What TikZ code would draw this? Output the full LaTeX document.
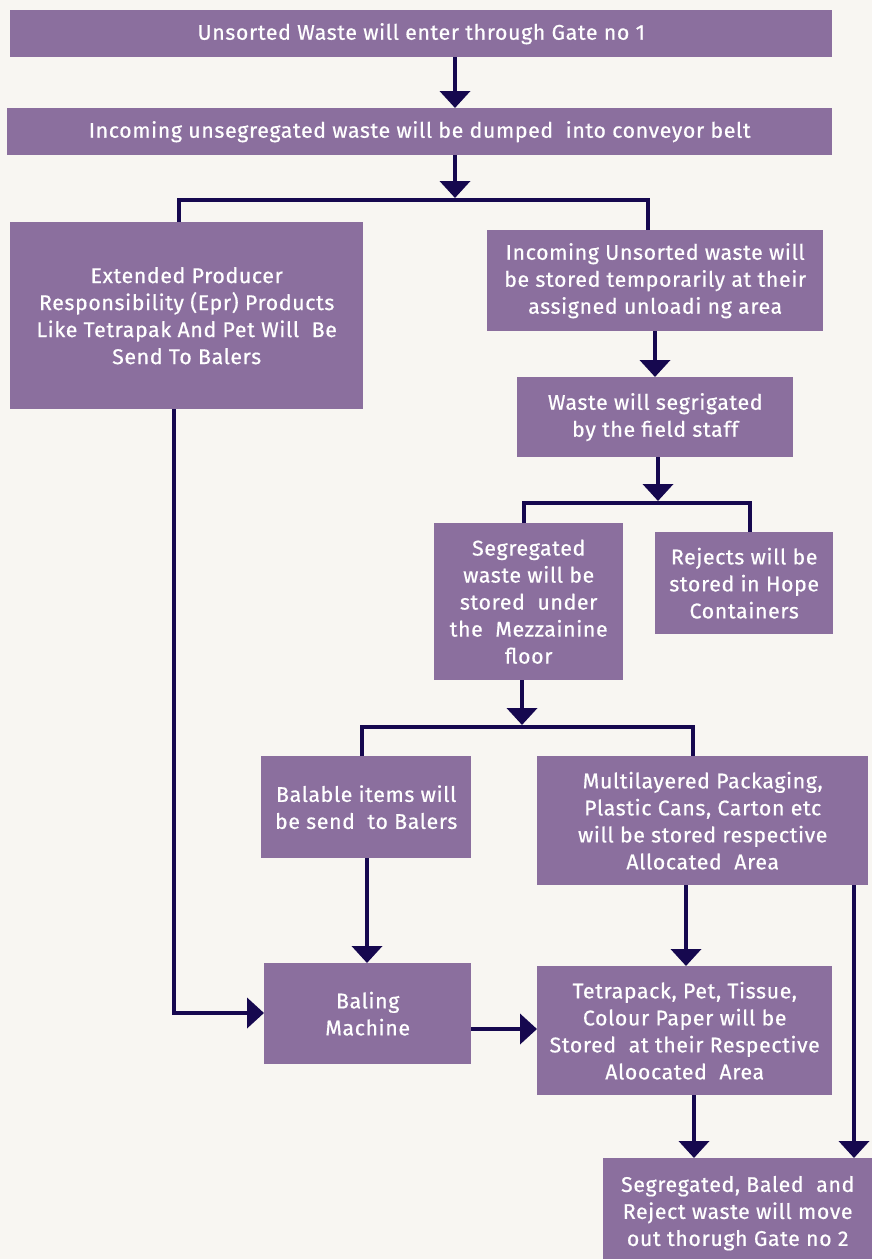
\documentclass[tikz,border=0pt]{standalone}
\usepackage{fontspec}
\setmainfont[LetterSpace=3,FakeBold=0.6]{Fira Sans}
\usetikzlibrary{arrows.meta,calc}
\definecolor{boxfill}{HTML}{8B6F9E}
\definecolor{arrcol}{HTML}{16084F}
\definecolor{bgcol}{HTML}{F8F6F2}
\tikzset{
  box/.style={fill=boxfill, text=white, align=center, anchor=north west, inner sep=0pt,
    font=\fontsize{21.3}{27}\selectfont},
  conn/.style={draw=arrcol, line width=4pt},
  arr/.style={conn, -{Triangle[width=30pt,length=17pt]}},
}
\begin{document}
\begin{tikzpicture}[x=1pt,y=-1pt]
\fill[bgcol] (0,0) rectangle (872,1259);
\useasboundingbox (0,0) rectangle (872,1259);

\node[box, minimum width=822pt, minimum height=47pt] (gate1) at (10,10) {Unsorted Waste will enter through Gate no 1};
\node[box, minimum width=825pt, minimum height=47pt] (dump) at (7,108) {Incoming unsegregated waste will be dumped\ \ into conveyor belt};
\node[box, minimum width=353pt, minimum height=187pt] (epr) at (10,222) {Extended Producer\\Responsibility (Epr) Products\\Like Tetrapak And Pet Will\ \ Be\\Send To Balers};
\node[box, minimum width=336pt, minimum height=101pt] (store) at (487,230) {Incoming Unsorted waste will\\be stored temporarily at their\\assigned unloadi ng area};
\node[box, minimum width=276pt, minimum height=80pt] (seg) at (517,377) {Waste will segrigated\\by the field staff};
\node[box, minimum width=189pt, minimum height=157pt] (mezz) at (434,523) {Segregated\\waste will be\\stored\ \ under\\the\ \ Mezzainine\\floor};
\node[box, minimum width=178pt, minimum height=102pt] (rej) at (655,532) {Rejects will be\\stored in Hope\\Containers};
\node[box, minimum width=210pt, minimum height=102pt] (bal) at (261,756) {Balable items will\\be send\ \ to Balers};
\node[box, minimum width=331pt, minimum height=129pt] (multi) at (537,756) {Multilayered Packaging,\\Plastic Cans, Carton etc\\will be stored respective\\Allocated\ \ Area};
\node[box, minimum width=207pt, minimum height=101pt] (baling) at (264,963) {Baling\\Machine};
\node[box, minimum width=295pt, minimum height=129pt] (tetra) at (537,966) {Tetrapack, Pet, Tissue,\\Colour Paper will be\\Stored\ \ at their Respective\\Aloocated\ \ Area};
\node[box, minimum width=269pt, minimum height=110pt] (out) at (603,1158) {Segregated, Baled\ \ and\\Reject waste will move\\out thorugh Gate no 2};

% junction coordinates
\coordinate (j1) at (455,200);
\coordinate (j2) at (658,503);
\coordinate (j3) at (522,727);

\draw[arr] (gate1.south -| 455,0) -- (dump.north -| 455,0);
\draw[arr] (dump.south -| j1) -- ($(j1)+(0,-2)$);
\draw[conn] (epr.north -| 179,0) |- (j1) -| (store.north -| 648,0);
\draw[arr] (store.south -| 655,0) -- (seg.north -| 655,0);
\draw[arr] (seg.south -| j2) -- ($(j2)+(0,-2)$);
\draw[conn] (mezz.north -| 524,0) |- (j2) -| (rej.north -| 750,0);
\draw[arr] (mezz.south -| j3) -- ($(j3)+(0,-2)$);
\draw[conn] (bal.north -| 362,0) |- (j3) -| (multi.north -| 693,0);
\draw[arr] (bal.south -| 367,0) -- (baling.north -| 367,0);
\draw[arr] (multi.south -| 686,0) -- (tetra.north -| 686,0);
\draw[arr] (epr.south -| 174,0) |- (baling.west |- 0,1013);
\draw[arr] (baling.east |- 0,1029) -- (tetra.west |- 0,1029);
\draw[arr] (tetra.south -| 694,0) -- (out.north -| 694,0);
\draw[arr] (multi.south -| 854,0) -- (out.north -| 854,0);
\end{tikzpicture}
\end{document}
